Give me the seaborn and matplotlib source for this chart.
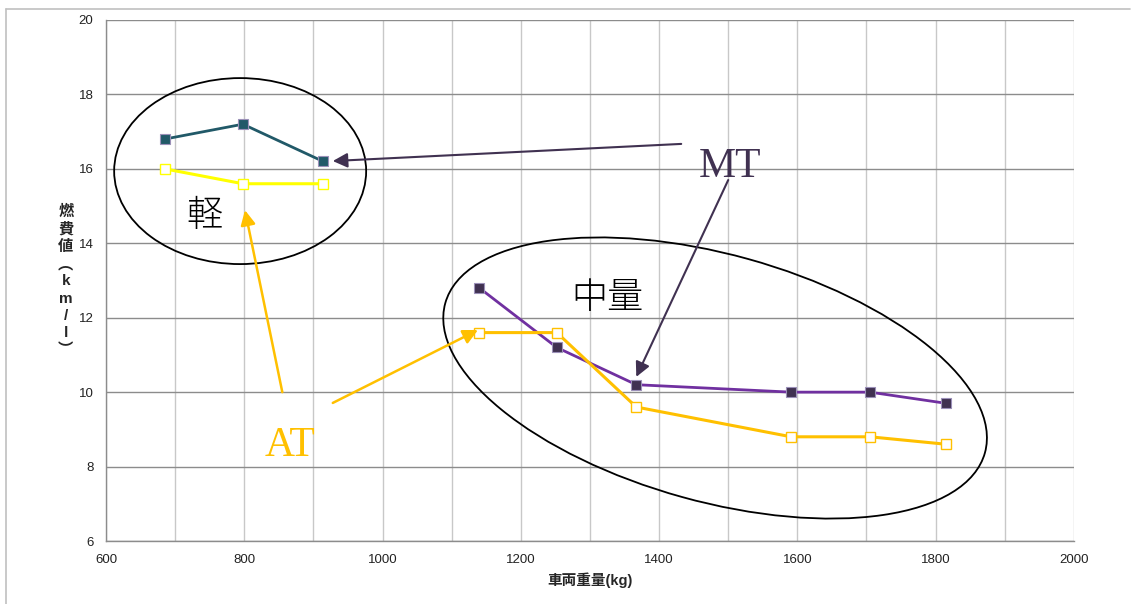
import numpy as np
import pandas as pd
import seaborn as sns
import matplotlib.pyplot as plt
from matplotlib.patches import Ellipse
from matplotlib.transforms import ScaledTranslation
from matplotlib.lines import Line2D

# light cars (軽)
light_weight = [685, 798, 914]
light_mt = [16.8, 17.2, 16.2]
light_at = [16.0, 15.6, 15.6]

# mid-size cars (中量)
mid_weight = [1140, 1252, 1367, 1591, 1705, 1815]
mid_mt = [12.8, 11.2, 10.2, 10.0, 10.0, 9.7]
mid_at = [11.6, 11.6, 9.6, 8.8, 8.8, 8.6]

sns.set_style("white")
plt.rcParams['font.family'] = ['Liberation Sans', 'Noto Sans CJK JP', 'DejaVu Sans']

fig = plt.figure(figsize=(11.34, 6.04), dpi=100)
ax = fig.add_axes([0.0935, 0.1043, 0.8535, 0.8626])

# outer chart frame (top and left only visible)
fig.add_artist(Line2D([0.0053, 0.9965], [0.985, 0.985], transform=fig.transFigure, color='#c0c0c0', lw=1.2))
fig.add_artist(Line2D([0.0053, 0.0053], [0.0, 0.985], transform=fig.transFigure, color='#c0c0c0', lw=1.2))

light = pd.DataFrame({'weight': light_weight, 'MT': light_mt, 'AT': light_at})
mid = pd.DataFrame({'weight': mid_weight, 'MT': mid_mt, 'AT': mid_at})

sns.lineplot(data=light, x='weight', y='MT', ax=ax, color='#215968', lw=2, marker='s',
             markersize=7, markerfacecolor='#215968', markeredgecolor='#9b90b8', markeredgewidth=0.8, zorder=4)
sns.lineplot(data=light, x='weight', y='AT', ax=ax, color='#ffff00', lw=2.2, marker='s',
             markersize=7, markerfacecolor='white', markeredgecolor='#ffff00', markeredgewidth=1, zorder=4)
sns.lineplot(data=mid, x='weight', y='MT', ax=ax, color='#7030a0', lw=2, marker='s',
             markersize=7, markerfacecolor='#403151', markeredgecolor='#9b90b8', markeredgewidth=0.8, zorder=4)
sns.lineplot(data=mid, x='weight', y='AT', ax=ax, color='#ffc000', lw=2.2, marker='s',
             markersize=7, markerfacecolor='white', markeredgecolor='#ffc000', markeredgewidth=1, zorder=4)

ax.set_xlim(600, 2000)
ax.set_ylim(6, 20)
ax.set_xticks(range(600, 2001, 200))
ax.set_xticks(range(700, 2000, 200), minor=True)
ax.set_yticks(range(6, 21, 2))
ax.grid(axis='x', which='both', color='#c8c8c8', lw=1)
ax.grid(axis='y', which='major', color='#8c8c8c', lw=1)
ax.set_axisbelow(True)
for s in ['top', 'right']:
    ax.spines[s].set_visible(False)
for s in ['left', 'bottom']:
    ax.spines[s].set_color('#8c8c8c')
    ax.spines[s].set_linewidth(1)
ax.tick_params(axis='both', which='major', direction='out', length=4, color='#8c8c8c',
               labelsize=9.5, labelcolor='#222222', pad=5)
ax.tick_params(axis='x', which='minor', length=0)

ax.set_xlabel('車両重量(kg)', fontsize=10.5, fontweight='bold', labelpad=5)
ax.set_ylabel('')
fig.text(0.058, 0.535, '\n'.join(['燃', '費', '値', '︵', 'k', 'm', '/', 'l', '︶']),
         ha='center', va='center', fontsize=11, fontweight='bold', linespacing=1.3)

# group ellipses (centre in data, size in pixels)
ax.add_patch(Ellipse((0, 0), 252, 186, fill=False, ec='black', lw=1.3, zorder=5,
                     transform=ScaledTranslation(794, 15.94, ax.transData)))
ax.add_patch(Ellipse((0, 0), 560, 247, angle=-15.5, fill=False, ec='black', lw=1.3, zorder=5,
                     transform=ScaledTranslation(1481, 10.38, ax.transData)))

# callout arrows
mt_col = '#403151'
at_col = '#ffc000'
arrow_mt = dict(arrowstyle='-|>', color=mt_col, lw=1.5, mutation_scale=22, shrinkA=0, shrinkB=0)
arrow_at = dict(arrowstyle='-|>', color=at_col, lw=1.8, mutation_scale=22, shrinkA=0, shrinkB=0)
ax.annotate('', xy=(928, 16.21), xytext=(1432, 16.67), arrowprops=arrow_mt, zorder=6)
ax.annotate('', xy=(1367, 10.41), xytext=(1500, 15.70), arrowprops=arrow_mt, zorder=6)
ax.annotate('', xy=(801, 14.89), xytext=(855, 10.0), arrowprops=arrow_at, zorder=6)
ax.annotate('', xy=(1138, 11.67), xytext=(928, 9.71), arrowprops=arrow_at, zorder=6)

serif = ['Liberation Serif', 'DejaVu Serif']
ax.text(1502, 16.05, 'MT', color=mt_col, fontsize=30, family=serif, ha='center', va='center')
ax.text(866, 8.55, 'AT', color=at_col, fontsize=30, family=serif, ha='center', va='center')
cjk = ['Noto Sans CJK JP', 'DejaVu Sans']
ax.text(743, 14.73, '軽', color='black', fontsize=26, family=cjk, ha='center', va='center', fontweight='light')
ax.text(1325, 12.53, '中量', color='black', fontsize=26, family=cjk, ha='center', va='center', fontweight='light')

fig.savefig('out.png', dpi=100)
